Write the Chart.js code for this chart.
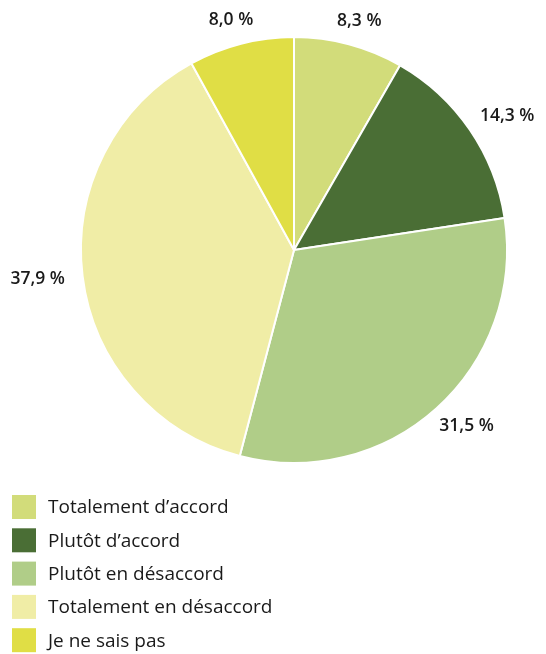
<!DOCTYPE html>
<html>
<head>
<meta charset="utf-8">
<script src="https://cdn.jsdelivr.net/npm/chart.js@4"></script>
<style>
  html, body { margin: 0; padding: 0; background: #fff; }
  #wrap { width: 546px; height: 654px; }
</style>
</head>
<body>
<div id="wrap"><canvas id="pieChart" width="546" height="654"></canvas></div>
<script>
// categories and values (percent)
var categories = ['Totalement d\u2019accord', 'Plut\u00f4t d\u2019accord', 'Plut\u00f4t en d\u00e9saccord', 'Totalement en d\u00e9saccord', 'Je ne sais pas'];
var values = [8.3, 14.3, 31.5, 37.9, 8.0];
var valueLabels = ['8,3 %', '14,3 %', '31,5 %', '37,9 %', '8,0 %'];
var colors = ['#d2dc7a', '#4a6e35', '#b0cd88', '#f0eda6', '#e0de45'];

var fontFamily = '"Open Sans", "Noto Sans", sans-serif';

// draw the percent labels outside each slice
var outsideLabels = {
    id: 'outsideLabels',
    afterDatasetsDraw: function(chart) {
        var ctx = chart.ctx;
        var arcs = chart.getDatasetMeta(0).data;
        ctx.save();
        ctx.font = '600 17.5px ' + fontFamily;
        ctx.fillStyle = '#1a1a1a';
        ctx.textAlign = 'center';
        ctx.textBaseline = 'middle';
        arcs.forEach(function(arc, i) {
            var p = arc.getProps(['x', 'y', 'startAngle', 'endAngle', 'outerRadius'], true);
            var mid = (p.startAngle + p.endAngle) / 2;
            var ux = Math.cos(mid), uy = Math.sin(mid);
            var r = p.outerRadius + 14;
            var hw = ctx.measureText(valueLabels[i]).width / 2 + 4;
            var hh = 10;
            var x = p.x + ux * r + ux * hw;
            var y = p.y + uy * r + uy * hh;
            ctx.fillText(valueLabels[i], x, y);
        });
        ctx.restore();
    }
};

// vertical legend under the pie
var listLegend = {
    id: 'listLegend',
    afterDraw: function(chart) {
        var ctx = chart.ctx;
        ctx.save();
        ctx.font = '19px ' + fontFamily;
        ctx.textBaseline = 'middle';
        ctx.textAlign = 'left';
        categories.forEach(function(cat, i) {
            var cy = 507 + i * 33.3;
            ctx.fillStyle = colors[i];
            ctx.fillRect(12, cy - 12, 24, 24);
            ctx.fillStyle = '#1a1a1a';
            ctx.fillText(cat, 48, cy + 1);
        });
        ctx.restore();
    }
};

var pieChart = new Chart(document.getElementById('pieChart'), {
    type: 'pie',
    data: {
        labels: categories,
        datasets: [{
            data: values,
            backgroundColor: colors,
            borderColor: '#ffffff',
            borderWidth: 2
        }]
    },
    options: {
        responsive: false,
        animation: false,
        layout: {
            padding: { top: 36, bottom: 190, left: 80, right: 38 }
        },
        plugins: {
            legend: { display: false },
            tooltip: { enabled: false }
        }
    },
    plugins: [outsideLabels, listLegend]
});
</script>
</body>
</html>
